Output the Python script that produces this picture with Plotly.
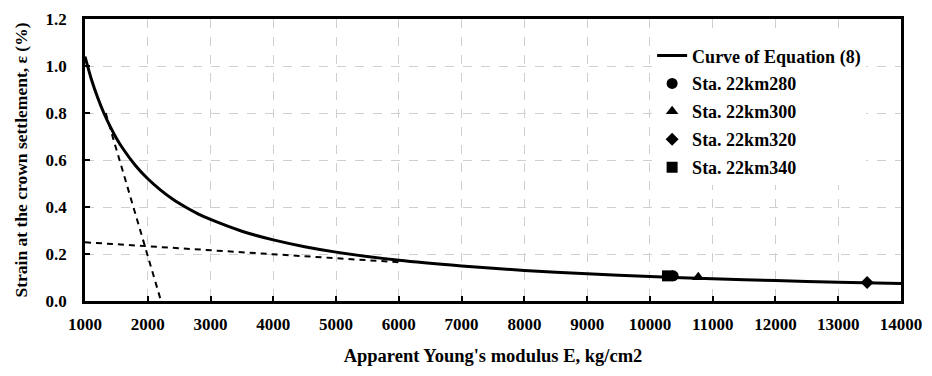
import plotly.graph_objects as go

# Curve of Equation (8)
curve_E = [1000, 1100, 1200, 1300, 1400, 1500, 1600, 1800, 2000, 2200, 2400, 2600, 2800,
           3000, 3500, 4000, 4500, 5000, 6000, 7000, 8000, 9000, 10000, 11000, 12000,
           13000, 14000]
curve_eps = [1.04, 0.945, 0.867, 0.80, 0.743, 0.693, 0.650, 0.578, 0.520, 0.473, 0.433,
             0.400, 0.371, 0.347, 0.297, 0.260, 0.231, 0.208, 0.173, 0.149, 0.130, 0.116,
             0.104, 0.095, 0.087, 0.080, 0.075]

# Dashed construction lines
dash1_E = [1330, 2200]
dash1_eps = [0.80, 0.01]
dash2_E = [1000, 6000]
dash2_eps = [0.25, 0.165]

# Stations
stations = ["Sta. 22km280", "Sta. 22km300", "Sta. 22km320", "Sta. 22km340"]
sta_E = [10370, 10770, 13460, 10280]
sta_eps = [0.107, 0.101, 0.079, 0.107]
sta_symbols = ["circle", "triangle-up", "diamond", "square"]
sta_sizes = [11, 11, 10, 11]

x_ticks = list(range(1000, 14001, 1000))
x_ticktext = [str(v) for v in x_ticks]
y_ticks = [0.0, 0.2, 0.4, 0.6, 0.8, 1.0, 1.2]
y_ticktext = ["%.1f" % v for v in y_ticks]

FONT = "Liberation Serif"

fig = go.Figure()

fig.add_trace(go.Scatter(x=dash1_E, y=dash1_eps, mode="lines",
                         line=dict(color="black", width=2, dash="6px,5px"),
                         showlegend=False, hoverinfo="skip"))
fig.add_trace(go.Scatter(x=dash2_E, y=dash2_eps, mode="lines",
                         line=dict(color="black", width=2, dash="6px,5px"),
                         showlegend=False, hoverinfo="skip"))
fig.add_trace(go.Scatter(x=curve_E, y=curve_eps, mode="lines", name="<b>Curve of Equation (8)</b>",
                         line=dict(color="black", width=3, shape="spline", smoothing=0.6),
                         legendgroup="c"))
for i, name in enumerate(stations):
    fig.add_trace(go.Scatter(x=[sta_E[i]], y=[sta_eps[i]], mode="markers", name="<b>%s</b>" % name,
                             marker=dict(symbol=sta_symbols[i], size=sta_sizes[i], color="black"),
                             legendgroup=name, cliponaxis=False))

axis_common = dict(
    showline=True, linecolor="black", linewidth=2.5, mirror=True,
    ticks="inside", ticklen=5, tickwidth=1.5, tickcolor="black",
    showgrid=True, gridcolor="#cfcfcf", griddash="dash", gridwidth=1,
    zeroline=False,
    tickfont=dict(family=FONT, size=17, color="black"),
)

fig.update_xaxes(range=[1000, 14000], tickvals=x_ticks,
                 ticktext=["<b>%s</b>" % t for t in x_ticktext],
                 ticklabelstandoff=6,
                 title=dict(text="<b>Apparent Young's modulus E, kg/cm2</b>",
                            font=dict(family=FONT, size=18.5, color="black"), standoff=16),
                 **axis_common)
fig.update_yaxes(range=[0, 1.2], tickvals=y_ticks,
                 ticktext=["<b>%s</b>" % t for t in y_ticktext],
                 ticklabelstandoff=12,
                 title=dict(text="<b>Strain at the crown settlement, ε (%)</b>",
                            font=dict(family=FONT, size=17.5, color="black"), standoff=14),
                 **axis_common)

fig.update_layout(
    width=932, height=376,
    margin=dict(l=85, r=27, t=10, b=75),
    plot_bgcolor="white", paper_bgcolor="white",
    font=dict(family=FONT, color="black"),
    legend=dict(x=0.695, y=0.935, xanchor="left", yanchor="top",
                bgcolor="rgba(255,255,255,1)", borderwidth=0,
                font=dict(family=FONT, size=18, color="black"),
                traceorder="grouped", tracegroupgap=1.5, itemwidth=30),
)

fig.write_html("out.html")
